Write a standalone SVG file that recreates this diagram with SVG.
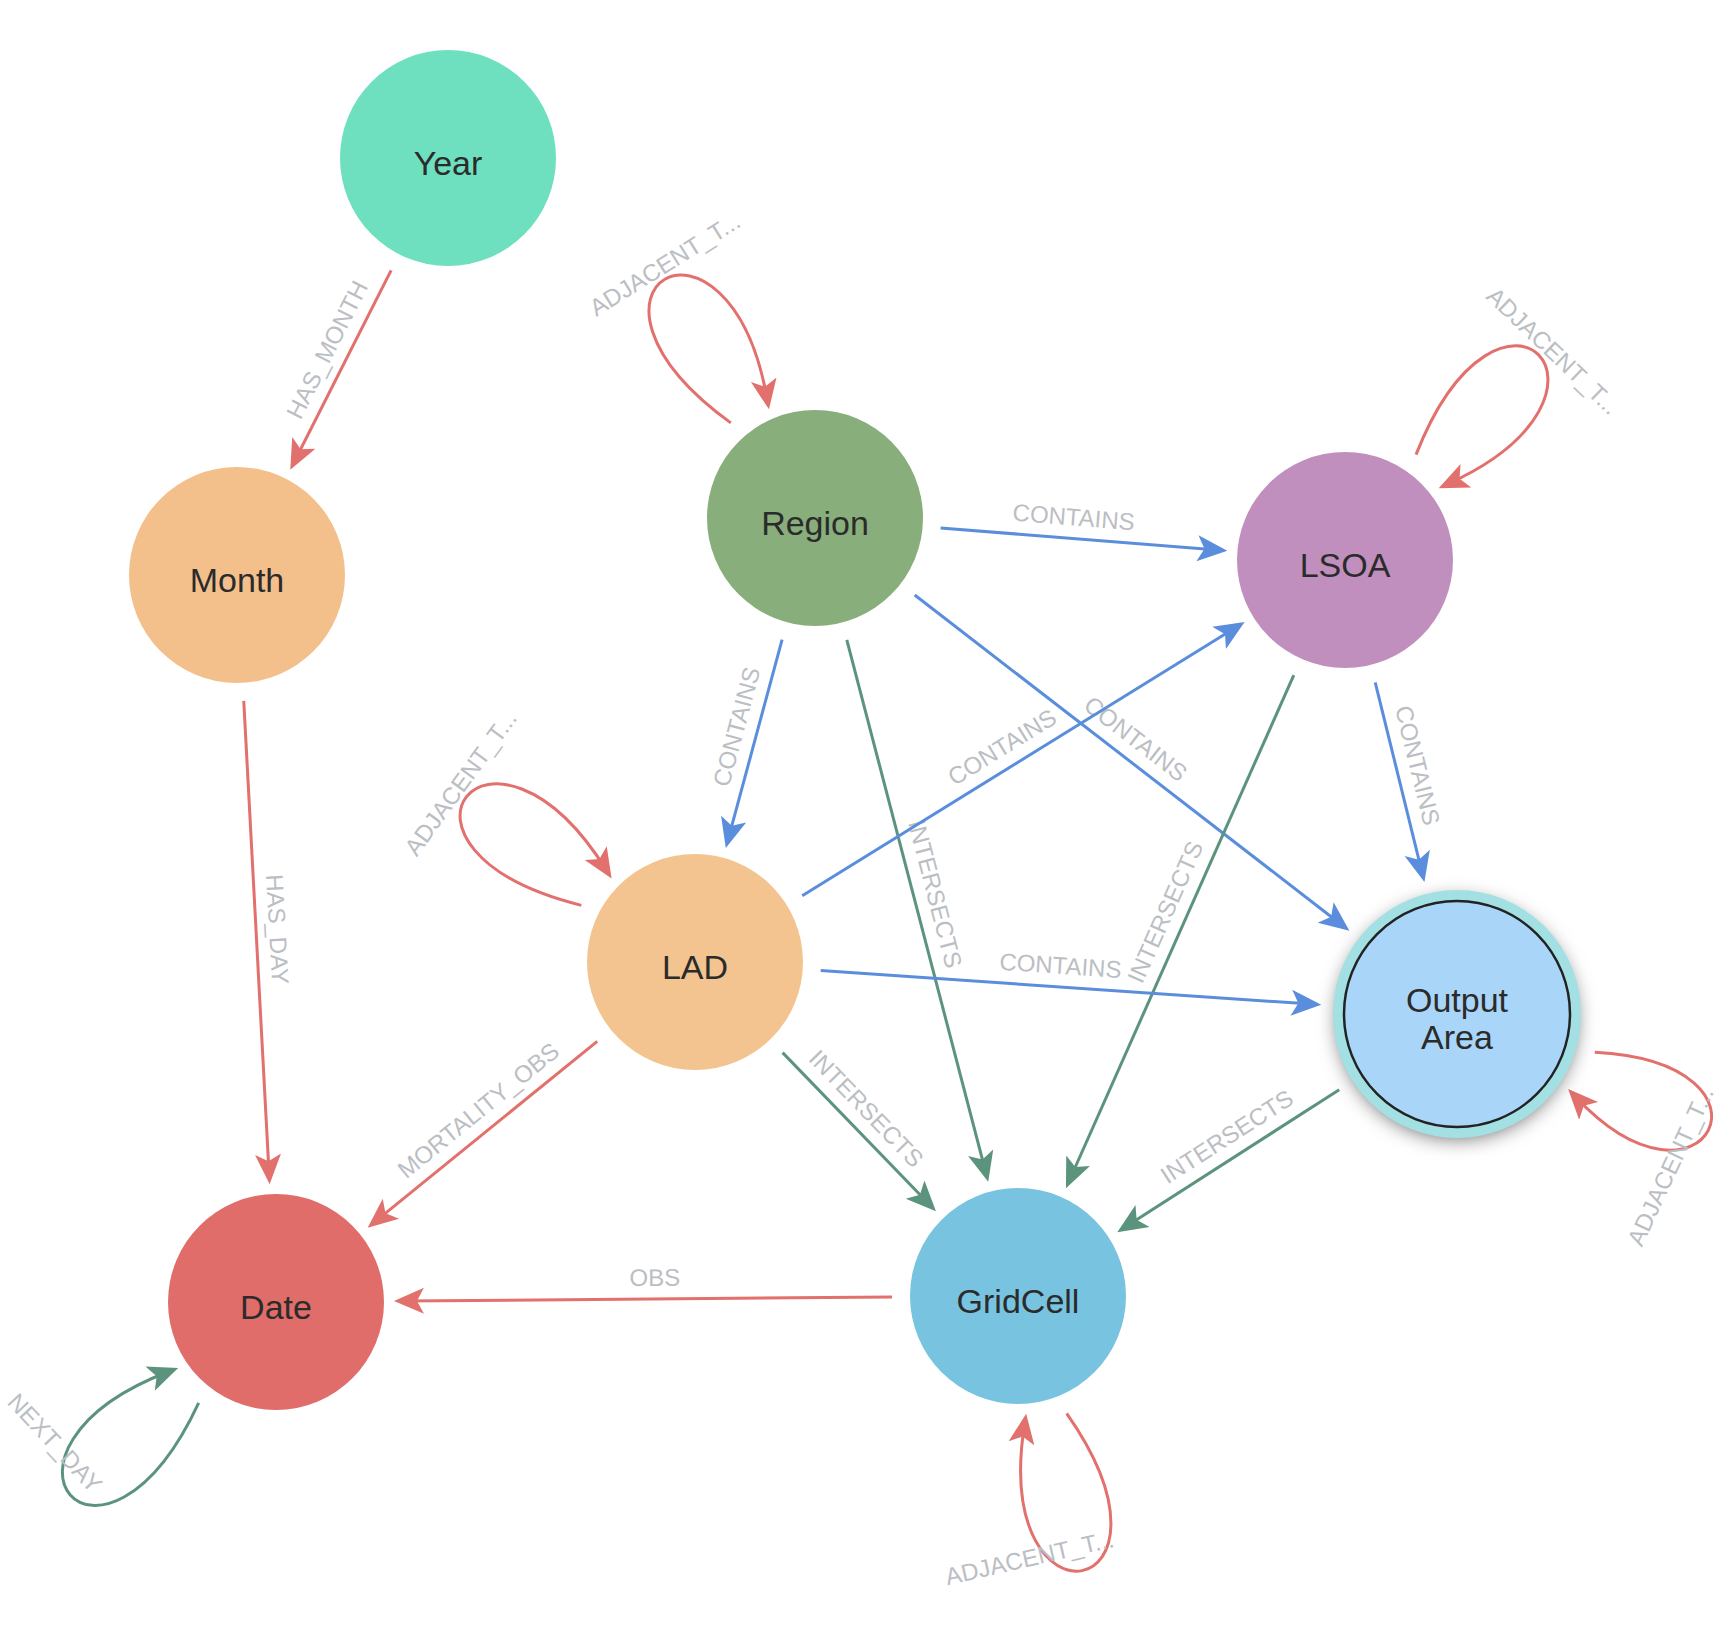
<svg xmlns="http://www.w3.org/2000/svg" width="1732" height="1650" viewBox="0 0 1732 1650">
<defs>
<style>
.e{fill:none;stroke-width:3;}
.r{stroke:#E2706C;marker-end:url(#ar-r);}
.b{stroke:#5A8EDD;marker-end:url(#ar-b);}
.g{stroke:#5C937D;marker-end:url(#ar-g);}
.lbl{font-family:"Liberation Sans",Arial,sans-serif;font-size:24px;fill:#BBBEC3;text-anchor:middle;}
.nt{font-family:"Liberation Sans",Arial,sans-serif;font-size:34px;fill:#2B2B2B;text-anchor:middle;}
</style>
<marker id="ar-r" markerUnits="userSpaceOnUse" markerWidth="30" markerHeight="28" viewBox="0 0 30 28" refX="20" refY="14" orient="auto"><path d="M30,14 L0,1 L7,14 L0,27 Z" fill="#E2706C"/></marker>
<marker id="ar-b" markerUnits="userSpaceOnUse" markerWidth="30" markerHeight="28" viewBox="0 0 30 28" refX="20" refY="14" orient="auto"><path d="M30,14 L0,1 L7,14 L0,27 Z" fill="#5A8EDD"/></marker>
<marker id="ar-g" markerUnits="userSpaceOnUse" markerWidth="30" markerHeight="28" viewBox="0 0 30 28" refX="20" refY="14" orient="auto"><path d="M30,14 L0,1 L7,14 L0,27 Z" fill="#5C937D"/></marker>
<filter id="shadow" x="-40%" y="-40%" width="180%" height="180%">
<feDropShadow dx="0" dy="5" stdDeviation="10" flood-color="#000" flood-opacity="0.6"/>
</filter>
</defs>
<rect width="1732" height="1650" fill="#FFFFFF"/>

<g id="connectors">
<!-- Year -> Month -->
<path class="e r" d="M391.1,270.4 L294.8,460.8"/>
<text class="lbl" transform="translate(346.1,359.3) rotate(-63.2)" y="-13">HAS_MONTH</text>
<!-- Month -> Date -->
<path class="e r" d="M243.75,700.8 L269.1,1174.2"/>
<text class="lbl" transform="translate(256.1,930.5) rotate(86.9)" y="-13">HAS_DAY</text>
<!-- Region -> LSOA -->
<path class="e b" d="M940.6,528 L1217.4,549.9"/>
<text class="lbl" transform="translate(1072,538.4) rotate(4.53)" y="-13">CONTAINS</text>
<!-- Region -> LAD -->
<path class="e b" d="M782.1,639.6 L728.4,838.4"/>
<text class="lbl" transform="translate(757.1,732.3) rotate(-74.9)" y="-13">CONTAINS</text>
<!-- Region -> Output Area -->
<path class="e b" d="M914.7,595 L1341.5,924.7"/>
<text class="lbl" transform="translate(1122.55,755.6) rotate(37.7)" y="-13">CONTAINS</text>
<!-- Region -> GridCell -->
<path class="e g" d="M846.8,639.9 L985.7,1172.1"/>
<text class="lbl" transform="translate(914.5,899.2) rotate(75.37)" y="-13">INTERSECTS</text>
<!-- LSOA -> Output Area -->
<path class="e b" d="M1375.2,682.3 L1422,872.3"/>
<text class="lbl" transform="translate(1396.9,770.5) rotate(76.14)" y="-13">CONTAINS</text>
<!-- LSOA -> GridCell -->
<path class="e g" d="M1293.8,675.1 L1070,1179"/>
<text class="lbl" transform="translate(1184.7,920.7) rotate(-66.04)" y="-13">INTERSECTS</text>
<!-- LAD -> LSOA -->
<path class="e b" d="M802.2,895.7 L1236.1,627.3"/>
<text class="lbl" transform="translate(1013.2,765.2) rotate(-31.73)" y="-13">CONTAINS</text>
<!-- LAD -> Output Area -->
<path class="e b" d="M820.7,970.6 L1311.3,1004.1"/>
<text class="lbl" transform="translate(1059,986.8) rotate(3.9)" y="-13">CONTAINS</text>
<!-- LAD -> GridCell -->
<path class="e g" d="M782.6,1052.6 L929,1204"/>
<text class="lbl" transform="translate(850.96,1123.3) rotate(45.96)" y="-13">INTERSECTS</text>
<!-- LAD -> Date -->
<path class="e r" d="M597.2,1041.4 L375.4,1221.35"/>
<text class="lbl" transform="translate(491.7,1126.9) rotate(-39.06)" y="-13">MORTALITY_OBS</text>
<!-- Output Area -> GridCell -->
<path class="e g" d="M1339.2,1089.7 L1125.7,1226.8"/>
<text class="lbl" transform="translate(1238.35,1154.5) rotate(-32.71)" y="-13">INTERSECTS</text>
<!-- GridCell -> Date -->
<path class="e r" d="M892,1297 L404,1301"/>
<text class="lbl" transform="translate(655,1298.9) rotate(-0.46)" y="-13">OBS</text>

<!-- self loops -->
<g transform="translate(815,518) rotate(-122)">
<path class="e r" d="M125.3,-21 C338.6,-107.2 329.8,104.7 125.8,22.25"/>
<text class="lbl" transform="translate(295,7) rotate(90)" y="8.5">ADJACENT_T...</text>
</g>
<g transform="translate(1345,560) rotate(-46.5)">
<path class="e r" d="M125.3,-21 C338.6,-107.2 329.8,104.7 125.8,22.25"/>
<text class="lbl" transform="translate(295,7) rotate(90)" y="8.5">ADJACENT_T...</text>
</g>
<g transform="translate(695,962) rotate(-144)">
<path class="e r" d="M125.3,-21 C338.6,-107.2 329.8,104.7 125.8,22.25"/>
<text class="lbl" transform="translate(295,7) rotate(90)" y="8.5">ADJACENT_T...</text>
</g>
<g transform="translate(1457,1014) rotate(25)">
<path class="e r" d="M141,-23.6 C326.4,-98.5 317.8,95.9 141.7,24.75"/>
<text class="lbl" transform="translate(257.6,47.7) rotate(-90)" y="8.5">ADJACENT_T...</text>
</g>
<g transform="translate(1018,1296) rotate(77)">
<path class="e r" d="M125.3,-21 C338.6,-107.2 329.8,104.7 125.8,22.25"/>
<text class="lbl" transform="translate(257.6,47.7) rotate(-90)" y="8.5">ADJACENT_T...</text>
</g>
<g transform="translate(276,1302) rotate(137)">
<path class="e g" d="M125.3,-21 C338.6,-107.2 329.8,104.7 125.8,22.25"/>
<text class="lbl" transform="translate(257.6,47.7) rotate(-90)" y="8.5">NEXT_DAY</text>
</g>
</g>

<g id="node-year"><circle cx="448" cy="158" r="108" fill="#6EE0C0"/><text class="nt" x="448" y="175">Year</text></g>
<g id="node-month"><circle cx="237" cy="575" r="108" fill="#F3C08B"/><text class="nt" x="237" y="592">Month</text></g>
<g id="node-region"><circle cx="815" cy="518" r="108" fill="#88AE7B"/><text class="nt" x="815" y="535">Region</text></g>
<g id="node-lsoa"><circle cx="1345" cy="560" r="108" fill="#C18FBD"/><text class="nt" x="1345" y="577">LSOA</text></g>
<g id="node-lad"><circle cx="695" cy="962" r="108" fill="#F3C48F"/><text class="nt" x="695" y="979">LAD</text></g>
<g id="node-output-area">
<circle cx="1457" cy="1014" r="119" fill="#A2E0E4" filter="url(#shadow)"/>
<circle cx="1457" cy="1014" r="119" fill="none" stroke="#A2E0E4" stroke-width="10"/>
<circle cx="1457" cy="1014" r="113" fill="#A9D6F8" stroke="#222" stroke-width="2.5"/>
<text class="nt" x="1457" y="1012">Output</text>
<text class="nt" x="1457" y="1049">Area</text>
</g>
<g id="node-date"><circle cx="276" cy="1302" r="108" fill="#E06D69"/><text class="nt" x="276" y="1319">Date</text></g>
<g id="node-gridcell"><circle cx="1018" cy="1296" r="108" fill="#78C3DF"/><text class="nt" x="1018" y="1313">GridCell</text></g>
</svg>
